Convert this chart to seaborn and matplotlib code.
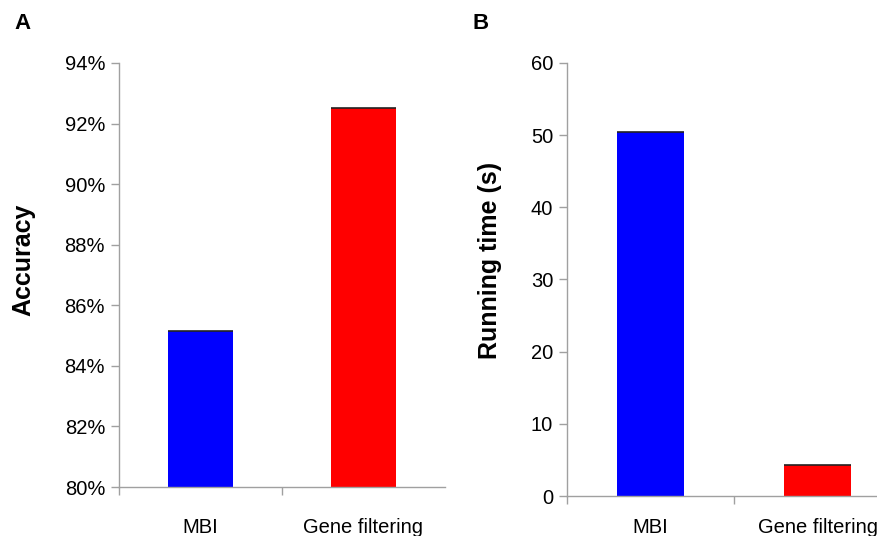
import matplotlib
matplotlib.use("Agg")
import matplotlib.pyplot as plt
import seaborn as sns
import pandas as pd
from matplotlib.ticker import FuncFormatter, FixedLocator

methods = ["MBI", "Gene filtering"]
accuracy = [85.15, 92.5]
running_time = [50.4, 4.3]
bar_colors = ["#0000ff", "#ff0000"]

sns.set_style("white")
plt.rcParams["font.family"] = ["Liberation Sans", "DejaVu Sans"]
plt.rcParams["text.color"] = "black"
plt.rcParams["axes.labelcolor"] = "black"
plt.rcParams["xtick.color"] = "black"
plt.rcParams["ytick.color"] = "black"

df = pd.DataFrame({"method": methods, "accuracy": accuracy, "time": running_time})

fig = plt.figure(figsize=(8.78, 5.36), dpi=100)
ax_a = fig.add_axes([0.1355, 0.0914, 0.3713, 0.7911])
ax_b = fig.add_axes([0.6458, 0.0746, 0.3804, 0.8079])

grey = "#a0a0a0"

def style_axis(ax, ylabel, xpad, label_y):
    for side in ["top", "right"]:
        ax.spines[side].set_visible(False)
    for side in ["left", "bottom"]:
        ax.spines[side].set_color(grey)
        ax.spines[side].set_linewidth(1.0)
    ax.set_xlim(-0.5, 1.5)
    ax.set_xlabel("")
    ax.set_ylabel(ylabel, fontsize=18, fontweight="bold", labelpad=21)
    ax.yaxis.label.set_y(label_y)
    ax.tick_params(axis="y", which="major", direction="out", length=6, width=1,
                   color=grey, labelcolor="black", labelsize=14.5, pad=4, left=True)
    ax.tick_params(axis="x", which="major", length=0, labelsize=14.5, pad=xpad,
                   labelcolor="black")
    ax.xaxis.set_minor_locator(FixedLocator([-0.5, 0.5]))
    ax.tick_params(axis="x", which="minor", direction="out", length=6, width=1,
                   color=grey, bottom=True)

# Panel A
sns.barplot(data=df, x="method", y="accuracy", hue="method", palette=bar_colors,
            legend=False, width=0.4, saturation=1, ax=ax_a, edgecolor="none")
ax_a.set_ylim(80, 94)
ax_a.set_yticks([80, 82, 84, 86, 88, 90, 92, 94])
ax_a.yaxis.set_major_formatter(FuncFormatter(lambda v, p: f"{v:.0f}%"))
style_axis(ax_a, "Accuracy", 22, 0.535)

# Panel B
sns.barplot(data=df, x="method", y="time", hue="method", palette=bar_colors,
            legend=False, width=0.4, saturation=1, ax=ax_b, edgecolor="none")
ax_b.set_ylim(0, 60)
ax_b.set_yticks([0, 10, 20, 30, 40, 50, 60])
style_axis(ax_b, "Running time (s)", 16, 0.545)

for ax in (ax_a, ax_b):
    for bar in ax.patches:
        x0 = bar.get_x()
        top = bar.get_height() + bar.get_y()
        ax.plot([x0, x0 + bar.get_width()], [top, top], color="#222222", lw=1.2,
                solid_capstyle="butt", clip_on=False)

fig.text(0.017, 0.957, "A", fontsize=16, fontweight="bold", va="center")
fig.text(0.538, 0.957, "B", fontsize=16, fontweight="bold", va="center")

fig.savefig("out.png", dpi=100)
